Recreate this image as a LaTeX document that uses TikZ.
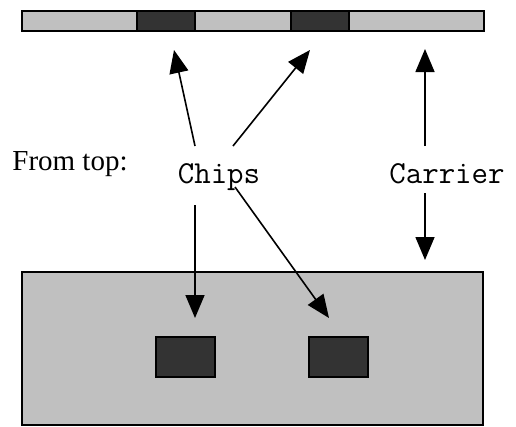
\documentclass[tikz,border=0pt]{standalone}
\usepackage{fontspec}
\setmainfont{Liberation Serif}
\usetikzlibrary{arrows.meta}
\definecolor{carriergray}{HTML}{C0C0C0}
\definecolor{chipdark}{HTML}{333333}
\begin{document}
\begin{tikzpicture}[x=1pt,y=-1pt,
  carrierbox/.style={draw=black,line width=1.5pt,fill=carriergray},
  chipbox/.style={draw=black,line width=1.5pt,fill=chipdark},
  pointer/.style={line width=1.6pt,-{Triangle[length=23pt,width=19pt]}},
  label/.style={inner sep=0pt,anchor=base,font=\fontsize{29}{34}\selectfont},
  codelabel/.style={label,font=\fontsize{32}{38}\selectfont\ttfamily}]
\useasboundingbox (0,0) rectangle (516,426);

% edge-on view of the carrier with its two chips
\draw[carrierbox] (22,11) rectangle (484,31);
\draw[chipbox] (137,11) rectangle (195,31);
\draw[chipbox] (291,11) rectangle (349,31);

% view from above
\draw[carrierbox] (22,272) rectangle (483,425);
\draw[chipbox] (156,337) rectangle (215,377);
\draw[chipbox] (309,337) rectangle (368,377);

% labels
\node[label] (fromtop) at (70,170) {From top:};
\node[codelabel] (chips) at (219,183) {Chips};
\node[codelabel] (carrier) at (447,183) {Carrier};

% arrow end points
\coordinate (c1s) at (195,146);
\coordinate (c1e) at (174,50);
\coordinate (c2s) at (233,146);
\coordinate (c2e) at (310,50);
\coordinate (c3s) at (195,205);
\coordinate (c3e) at (195,318);
\coordinate (c4s) at (235,187);
\coordinate (c4e) at (329,318);
\coordinate (k1s) at (425,146);
\coordinate (k1e) at (425,49);
\coordinate (k2s) at (425,193);
\coordinate (k2e) at (425,260);

\draw[pointer] (c1s) -- (c1e);
\draw[pointer] (c2s) -- (c2e);
\draw[pointer] (c3s) -- (c3e);
\draw[pointer] (c4s) -- (c4e);
\draw[pointer] (k1s) -- (k1e);
\draw[pointer] (k2s) -- (k2e);
\end{tikzpicture}
\end{document}
